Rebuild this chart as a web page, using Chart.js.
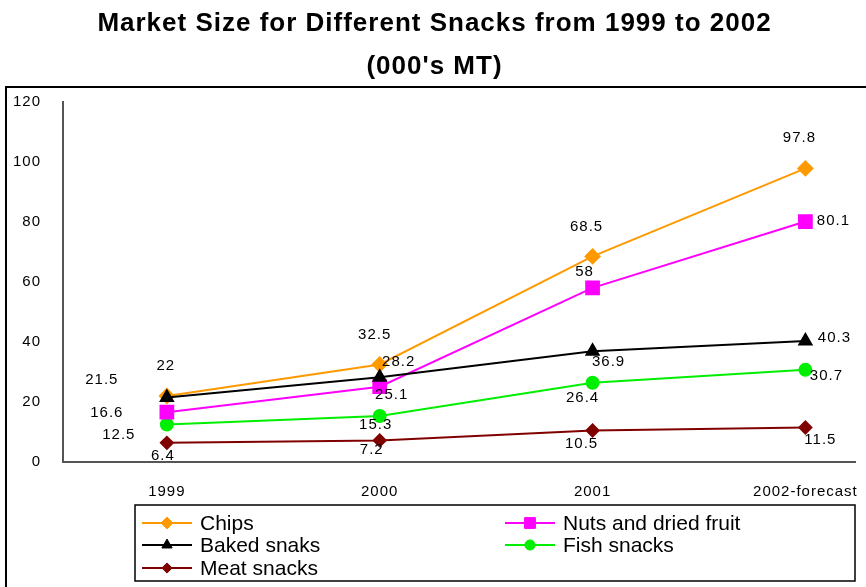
<!DOCTYPE html>
<html>
<head>
<meta charset="utf-8">
<script src="https://cdn.jsdelivr.net/npm/chart.js@4.4.1/dist/chart.umd.min.js"></script>
<style>
html, body { margin:0; padding:0; background:#fff; }
</style>
</head>
<body>
<canvas id="grafico" width="866" height="587"></canvas>
<script>

/* DADOS */

const years = ["1999", "2000", "2001", "2002-forecast"]
const yTicks = [0, 20, 40, 60, 80, 100, 120]

const seriesNames = ["Chips", "Nuts and dried fruit", "Baked snaks", "Fish snacks", "Meat snacks"]
const chips = [22, 32.5, 68.5, 97.8]
const nuts = [16.6, 25.1, 58, 80.1]
const baked = [21.5, 28.2, 36.9, 40.3]
const fish = [12.5, 15.3, 26.4, 30.7]
const meat = [6.4, 7.2, 10.5, 11.5]


/* ESTILO */

const FONT = "'Liberation Sans', Arial, sans-serif"

const styles = [
    { color: "#ff9900", point: "rectRot", radius: 7, order: 1 },
    { color: "#ff00ff", point: "rect", radius: 9, order: 2 },
    { color: "#000000", point: "triangle", radius: 7, order: 0 },
    { color: "#00ee00", point: "circle", radius: 6, order: 3 },
    { color: "#800000", point: "rectRot", radius: 6, order: 4 }
]

// where each value label sits, relative to its point
const labelOffsets = [
    [[-1, -30], [-5, -30], [-6, -30], [-6, -31]],
    [[-60, 1], [12, 8], [-8, -16], [28, -1]],
    [[-65, -18], [19, -15], [16, 11], [29, -3]],
    [[-48, 10], [-4, 9], [-10, 15], [21, 6]],
    [[-4, 13], [-8, 9], [-11, 13], [15, 12]]
]

const allSeries = [chips, nuts, baked, fish, meat]


/* PLUGINS */

const frame = {
    id: "frame",
    beforeDraw(chart) {
        const ctx = chart.ctx
        ctx.save()
        ctx.strokeStyle = "#000"
        ctx.lineWidth = 2
        ctx.beginPath()
        ctx.moveTo(6, 587)
        ctx.lineTo(6, 87)
        ctx.lineTo(866, 87)
        ctx.stroke()
        ctx.restore()
        ctx.letterSpacing = "1px"
    }
}

const valueLabels = {
    id: "valueLabels",
    afterDatasetsDraw(chart) {
        const ctx = chart.ctx
        ctx.save()
        ctx.font = "15px " + FONT
        ctx.fillStyle = "#000"
        ctx.textAlign = "center"
        ctx.textBaseline = "middle"
        chart.data.datasets.forEach((ds, i) => {
            chart.getDatasetMeta(i).data.forEach((pt, j) => {
                const off = labelOffsets[i][j]
                ctx.fillText(String(allSeries[i][j]), pt.x + off[0], pt.y + off[1])
            })
        })
        ctx.restore()
    }
}

const boxLegend = {
    id: "boxLegend",
    afterDraw(chart) {
        const ctx = chart.ctx
        ctx.save()
        ctx.letterSpacing = "0px"
        ctx.strokeStyle = "#000"
        ctx.lineWidth = 1.5
        ctx.strokeRect(135, 505, 720, 76)

        const colX = [142, 505]
        const rowY = [523, 545, 568]

        ctx.font = "21px " + FONT
        ctx.textBaseline = "middle"
        ctx.textAlign = "left"

        seriesNames.forEach((name, i) => {
            const x = colX[i % 2]
            const y = rowY[Math.floor(i / 2)]
            const st = styles[i]

            ctx.strokeStyle = st.color
            ctx.lineWidth = 2
            ctx.beginPath()
            ctx.moveTo(x, y)
            ctx.lineTo(x + 50, y)
            ctx.stroke()

            ctx.fillStyle = st.color
            ctx.strokeStyle = st.color
            ctx.lineWidth = 1
            Chart.helpers.drawPoint(ctx, {
                pointStyle: st.point,
                radius: st.radius * 0.85,
                rotation: 0,
                borderWidth: 1
            }, x + 25, y)

            ctx.fillStyle = "#000"
            ctx.fillText(name, x + 58, y + 1)
        })
        ctx.restore()
    }
}


/* GRAFICO */

new Chart(document.getElementById("grafico"), {

    type: "line",

    data: {
        datasets: allSeries.map((vals, i) => ({
            label: seriesNames[i],
            data: vals.map((v, j) => ({ x: j, y: v })),
            order: styles[i].order,
            borderColor: styles[i].color,
            backgroundColor: styles[i].color,
            pointBackgroundColor: styles[i].color,
            pointBorderColor: styles[i].color,
            pointStyle: styles[i].point,
            pointRadius: styles[i].radius,
            pointHoverRadius: styles[i].radius,
            borderWidth: 2,
            tension: 0,
            fill: false
        }))
    },

    options: {
        responsive: false,
        animation: false,
        layout: {
            padding: { left: 6, right: 3, top: 0, bottom: 0 }
        },
        plugins: {
            legend: { display: false },
            tooltip: { enabled: false },
            title: {
                display: true,
                text: ["Market Size for Different Snacks from 1999 to 2002", "(000's MT)"],
                color: "#000",
                font: { family: FONT, size: 26, weight: "bold", lineHeight: 1.65 },
                padding: { top: 2, bottom: 14 }
            }
        },
        scales: {
            x: {
                type: "linear",
                min: -0.488,
                max: 3.233,
                grid: { display: false },
                border: { display: true, color: "#555", width: 2 },
                ticks: {
                    stepSize: 1,
                    includeBounds: false,
                    autoSkip: false,
                    maxRotation: 0,
                    padding: 13,
                    color: "#000",
                    font: { family: FONT, size: 15 },
                    callback: v => Number.isInteger(v) ? years[v] : ""
                },
                afterFit(s) {
                    s.height = 125
                    s.paddingLeft = 0
                    s.paddingRight = 0
                }
            },
            y: {
                min: yTicks[0],
                max: yTicks[yTicks.length - 1],
                grid: { display: false },
                border: { display: true, color: "#555", width: 2 },
                ticks: {
                    stepSize: yTicks[1] - yTicks[0],
                    padding: 14,
                    color: "#000",
                    font: { family: FONT, size: 15 }
                },
                afterFit(s) {
                    s.width = 57
                }
            }
        }
    },

    plugins: [frame, valueLabels, boxLegend]

})

</script>
</body>
</html>
